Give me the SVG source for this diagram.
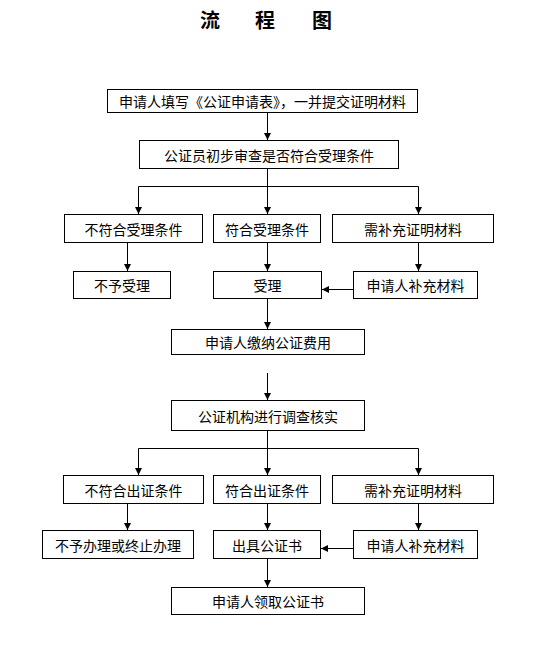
<svg xmlns="http://www.w3.org/2000/svg" width="538" height="651" viewBox="0 0 538 651">
<defs>
<marker id="ah" markerWidth="8" markerHeight="8" refX="7" refY="4" orient="auto" markerUnits="userSpaceOnUse">
<path d="M0,0.5 L7,4 L0,7.5 Z" fill="#000"/>
</marker>
</defs>
<style>
.b{fill:#fff;stroke:#000;stroke-width:1}
.t{font-family:"Noto Sans CJK SC","Noto Sans",sans-serif;font-size:14px;fill:#000;text-anchor:middle;dominant-baseline:central}
.ti{font-family:"Noto Sans CJK SC","Noto Sans",sans-serif;font-size:20px;font-weight:bold;fill:#000;text-anchor:middle}
.c{fill:none;stroke:#000;stroke-width:1}
.a{marker-end:url(#ah)}
</style>
<rect width="538" height="651" fill="#fff"/>
<g id="title">
<text class="ti" x="210" y="28">流</text>
<text class="ti" x="265" y="28">程</text>
<text class="ti" x="322" y="28">图</text>
</g>
<g id="connectors">
<path class="c a" d="M267.5,112 V140"/>
<path class="c" d="M267.5,168 V186.5 M138.5,186.5 H418.5"/>
<path class="c a" d="M138.5,186.5 V214"/>
<path class="c a" d="M267.5,186.5 V214"/>
<path class="c a" d="M418.5,186.5 V214"/>
<path class="c a" d="M127.5,242 V271"/>
<path class="c a" d="M267.5,242 V271"/>
<path class="c a" d="M418.5,242 V271"/>
<path class="c a" d="M353,289.5 H322"/>
<path class="c a" d="M267.5,298 V329"/>
<path class="c a" d="M267.5,373 V400"/>
<path class="c" d="M267.5,430 V448.5 M138.5,448.5 H418.5"/>
<path class="c a" d="M138.5,448.5 V475"/>
<path class="c a" d="M267.5,448.5 V475"/>
<path class="c a" d="M418.5,448.5 V475"/>
<path class="c a" d="M127.5,503 V530"/>
<path class="c a" d="M267.5,503 V530"/>
<path class="c a" d="M418.5,503 V530"/>
<path class="c a" d="M353,548.5 H321"/>
<path class="c a" d="M267.5,558 V587"/>
</g>
<g id="n1"><rect class="b" x="107.5" y="89.5" width="310" height="23"/><text class="t" x="262.5" y="101">申请人填写《公证申请表》，一并提交证明材料</text></g>
<g id="n2"><rect class="b" x="139.5" y="140.5" width="259" height="28"/><text class="t" x="269" y="154.5">公证员初步审查是否符合受理条件</text></g>
<g id="n3"><rect class="b" x="64.5" y="214.5" width="138" height="28"/><text class="t" x="133.5" y="228.5">不符合受理条件</text></g>
<g id="n4"><rect class="b" x="213.5" y="214.5" width="107" height="28"/><text class="t" x="267" y="228.5">符合受理条件</text></g>
<g id="n5"><rect class="b" x="332.5" y="214.5" width="161" height="28"/><text class="t" x="413" y="228.5">需补充证明材料</text></g>
<g id="n6"><rect class="b" x="73.5" y="271.5" width="97" height="27"/><text class="t" x="122" y="285">不予受理</text></g>
<g id="n7"><rect class="b" x="213.5" y="271.5" width="108" height="27"/><text class="t" x="267.5" y="285">受理</text></g>
<g id="n8"><rect class="b" x="353.5" y="271.5" width="124" height="27"/><text class="t" x="415.5" y="285">申请人补充材料</text></g>
<g id="n9"><rect class="b" x="171.5" y="329.5" width="193" height="25"/><text class="t" x="268" y="342">申请人缴纳公证费用</text></g>
<g id="n10"><rect class="b" x="171.5" y="400.5" width="193" height="30"/><text class="t" x="268" y="415.5">公证机构进行调查核实</text></g>
<g id="n11"><rect class="b" x="63.5" y="475.5" width="140" height="28"/><text class="t" x="133.5" y="489.5">不符合出证条件</text></g>
<g id="n12"><rect class="b" x="213.5" y="475.5" width="107" height="28"/><text class="t" x="267" y="489.5">符合出证条件</text></g>
<g id="n13"><rect class="b" x="332.5" y="475.5" width="161" height="28"/><text class="t" x="413" y="489.5">需补充证明材料</text></g>
<g id="n14"><rect class="b" x="42.5" y="530.5" width="151" height="28"/><text class="t" x="118" y="544.5">不予办理或终止办理</text></g>
<g id="n15"><rect class="b" x="213.5" y="530.5" width="107" height="28"/><text class="t" x="267" y="544.5">出具公证书</text></g>
<g id="n16"><rect class="b" x="353.5" y="530.5" width="124" height="28"/><text class="t" x="415.5" y="544.5">申请人补充材料</text></g>
<g id="n17"><rect class="b" x="171.5" y="587.5" width="193" height="27"/><text class="t" x="268" y="601">申请人领取公证书</text></g>
</svg>
